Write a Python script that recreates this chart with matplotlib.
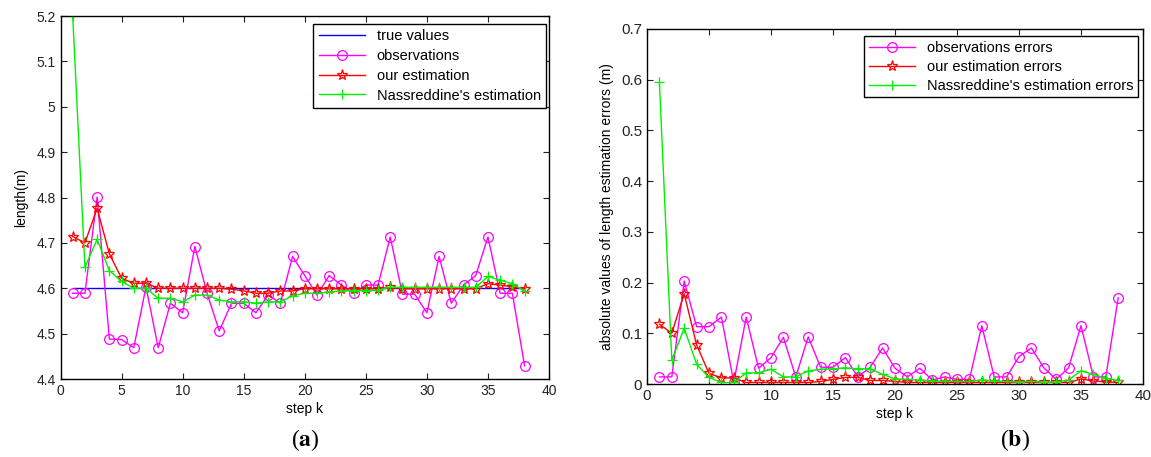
import matplotlib
matplotlib.use('Agg')
import matplotlib.pyplot as plt
import numpy as np

plt.rcParams['font.family'] = ['Liberation Sans', 'DejaVu Sans']
plt.rcParams['mathtext.fontset'] = 'stix'

steps = list(range(1, 39))
true_value = 4.6

observations = [4.589, 4.589, 4.801, 4.488, 4.487, 4.469, 4.603, 4.469, 4.567, 4.546,
                4.692, 4.589, 4.506, 4.567, 4.567, 4.546, 4.585, 4.567, 4.670, 4.628,
                4.585, 4.628, 4.607, 4.589, 4.607, 4.607, 4.713, 4.587, 4.587, 4.546,
                4.670, 4.567, 4.607, 4.628, 4.713, 4.589, 4.589, 4.429]
our_est = [4.714, 4.700, 4.776, 4.676, 4.622, 4.611, 4.611, 4.600, 4.600, 4.600,
           4.600, 4.600, 4.600, 4.598, 4.594, 4.589, 4.589, 4.594, 4.594, 4.599,
           4.599, 4.599, 4.599, 4.599, 4.599, 4.599, 4.602, 4.599, 4.599, 4.599,
           4.599, 4.599, 4.599, 4.599, 4.610, 4.607, 4.603, 4.599]
nass_est = [5.200, 4.646, 4.708, 4.639, 4.615, 4.600, 4.600, 4.578, 4.578, 4.570,
            4.585, 4.585, 4.574, 4.570, 4.570, 4.567, 4.570, 4.570, 4.583, 4.589,
            4.589, 4.592, 4.594, 4.595, 4.595, 4.596, 4.602, 4.602, 4.602, 4.602,
            4.602, 4.602, 4.602, 4.602, 4.626, 4.618, 4.610, 4.594]

obs_err = [0.014, 0.014, 0.203, 0.113, 0.113, 0.132, 0.003, 0.132, 0.031, 0.052,
           0.092, 0.014, 0.093, 0.033, 0.033, 0.052, 0.014, 0.033, 0.071, 0.031,
           0.014, 0.031, 0.008, 0.014, 0.009, 0.009, 0.115, 0.014, 0.014, 0.054,
           0.071, 0.032, 0.009, 0.032, 0.115, 0.014, 0.014, 0.170]
our_err = [0.118, 0.100, 0.178, 0.077, 0.021, 0.012, 0.012, 0.003, 0.003, 0.003,
           0.003, 0.003, 0.003, 0.005, 0.009, 0.013, 0.013, 0.007, 0.007, 0.005,
           0.003, 0.003, 0.003, 0.003, 0.003, 0.003, 0.003, 0.003, 0.003, 0.003,
           0.003, 0.003, 0.003, 0.003, 0.010, 0.006, 0.004, 0.003]
nass_err = [0.595, 0.047, 0.110, 0.039, 0.013, 0.003, 0.003, 0.022, 0.022, 0.029,
            0.014, 0.014, 0.026, 0.029, 0.030, 0.032, 0.030, 0.030, 0.019, 0.010,
            0.009, 0.008, 0.006, 0.006, 0.005, 0.005, 0.008, 0.006, 0.005, 0.004,
            0.005, 0.004, 0.004, 0.008, 0.026, 0.019, 0.011, 0.007]

W, H = 1151, 457
fig = plt.figure(figsize=(W / 100, H / 100), dpi=100)

def px_axes(x0, y0, x1, y1):
    return fig.add_axes([x0 / W, 1 - y1 / H, (x1 - x0) / W, (y1 - y0) / H])

def style(ax, size):
    ax.tick_params(direction='in', top=True, right=True, length=4, width=0.8,
                   labelsize=size, colors='#222222', labelcolor='#222222')
    for s in ax.spines.values():
        s.set_linewidth(1.0)
    ax.set_xlim(0, 40)
    ax.set_xticks(range(0, 41, 5))

mk = dict(markersize=7, markeredgewidth=0.9, linewidth=1.0)
GREEN = '#00f000'

# (a) lengths
ax1 = px_axes(60.5, 16, 549, 379)
ax1.plot(steps, [true_value] * len(steps), color='#0000ff', linewidth=1.0, label='true values')
ax1.plot(steps, observations, color='#ff00ff', marker='o', markerfacecolor='none', label='observations', **mk)
ax1.plot(steps, our_est, color='#ff0000', marker='*', markerfacecolor='none', label='our estimation',
         markersize=8, markeredgewidth=0.9, linewidth=1.0)
ax1.plot(steps, nass_est, color=GREEN, marker='+', label="Nassreddine's estimation", **mk)
style(ax1, 10)
ax1.set_ylim(4.4, 5.2)
ax1.set_yticks(np.arange(4.4, 5.21, 0.1))
ax1.set_yticklabels(['4.4', '4.5', '4.6', '4.7', '4.8', '4.9', '5', '5.1', '5.2'])
ax1.set_xlabel('step k', fontsize=10, labelpad=3)
ax1.set_ylabel('length(m)', fontsize=10, labelpad=6)
leg1 = ax1.legend(loc='upper right', fontsize=10.5, handlelength=3.2, borderpad=0.35,
                  labelspacing=0.4, fancybox=False, framealpha=1, edgecolor='black',
                  bbox_to_anchor=(0.994, 0.978), borderaxespad=0)
leg1.get_frame().set_linewidth(1.0)

# (b) absolute errors
ax2 = px_axes(647, 29, 1143, 384)
ax2.plot(steps, obs_err, color='#ff00ff', marker='o', markerfacecolor='none', label='observations errors', **mk)
ax2.plot(steps, our_err, color='#ff0000', marker='*', markerfacecolor='none', label='our estimation errors',
         markersize=8, markeredgewidth=0.9, linewidth=1.0)
ax2.plot(steps, nass_err, color=GREEN, marker='+', label="Nassreddine's estimation errors", **mk)
style(ax2, 11)
ax2.set_ylim(0, 0.7)
ax2.set_yticks(np.arange(0, 0.71, 0.1))
ax2.set_yticklabels(['0', '0.1', '0.2', '0.3', '0.4', '0.5', '0.6', '0.7'])
ax2.set_xlabel('step k', fontsize=10, labelpad=3)
ax2.set_ylabel('absolute values of length estimation errors (m)', fontsize=10, labelpad=5)
leg2 = ax2.legend(loc='upper right', fontsize=10.5, handlelength=3.2, borderpad=0.3,
                  labelspacing=0.35, fancybox=False, framealpha=1, edgecolor='black',
                  bbox_to_anchor=(0.99, 0.979), borderaxespad=0)
leg2.get_frame().set_linewidth(1.0)

# sub-figure labels
fig.text(305 / W, 1 - 440 / H, r'($\mathbf{a}$)', fontsize=17, ha='center', va='center',
         family='Liberation Serif')
fig.text(1015 / W, 1 - 440 / H, r'($\mathbf{b}$)', fontsize=17, ha='center', va='center',
         family='Liberation Serif')

fig.savefig('out.png', dpi=100)
